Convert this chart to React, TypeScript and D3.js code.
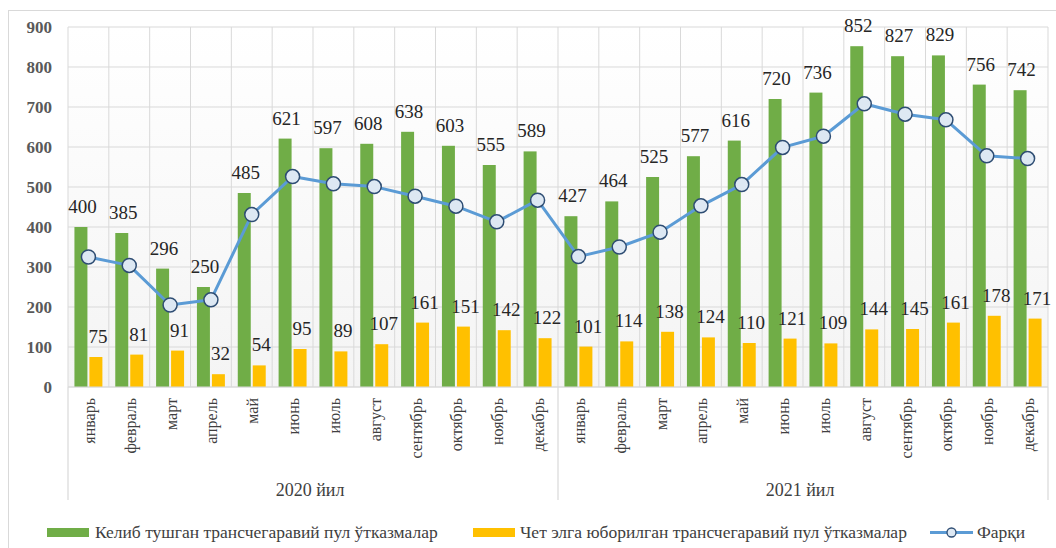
import * as d3 from "d3"

const months = ["январь", "февраль", "март", "апрель", "май", "июнь", "июль", "август", "сентябрь", "октябрь", "ноябрь", "декабрь"]
const years = ["2020 йил", "2021 йил"]
const incoming = [400, 385, 296, 250, 485, 621, 597, 608, 638, 603, 555, 589, 427, 464, 525, 577, 616, 720, 736, 852, 827, 829, 756, 742]
const outgoing = [75, 81, 91, 32, 54, 95, 89, 107, 161, 151, 142, 122, 101, 114, 138, 124, 110, 121, 109, 144, 145, 161, 178, 171]
const difference = [325, 304, 205, 218, 431, 526, 508, 501, 477, 452, 413, 467, 326, 350, 387, 453, 506, 599, 627, 708, 682, 668, 578, 571]
const yTicks = [0, 100, 200, 300, 400, 500, 600, 700, 800, 900]
const legendNames = ["Келиб тушган трансчегаравий пул ўтказмалар", "Чет элга юборилган трансчегаравий пул ўтказмалар", "Фарқи"]

const W = 1056
const H = 548
const serif = "'Times New Roman', Times, 'Liberation Serif', 'DejaVu Serif', serif"
const GREEN = "#70ad47"
const YELLOW = "#ffc000"
const LINE = "#5b9bd5"
const GRID = "#d9d9d9"

export default function App() {
  const keys = years.flatMap((yr, i) => months.map((m) => `${i}-${m}`))
  const x = d3.scaleBand<string>().domain(keys).range([68, 1048])
  const y = d3.scaleLinear().domain([0, 900]).range([387, 27])
  const sub = d3
    .scaleBand<string>()
    .domain(["in", "out"])
    .range([0, x.bandwidth()])
    .paddingInner(0.133)
    .paddingOuter(0.43)
  const bw = sub.bandwidth()
  const cx = (k: string) => (x(k) ?? 0) + x.bandwidth() / 2

  const line = d3
    .line<number>()
    .x((_, i) => cx(keys[i]))
    .y((d) => y(d))

  const groupEdges = [x(keys[0]) ?? 0, x(keys[12]) ?? 0, 1048]

  return (
    <svg width={W} height={H} fontFamily={serif} style={{ position: "absolute", left: 0, top: 0, background: "#fff" }}>
      <defs>
        <linearGradient id="plotbg" x1="0" y1="0" x2="0" y2="1">
          <stop offset="0" stopColor="#ffffff" />
          <stop offset="1" stopColor="#f4f4f4" />
        </linearGradient>
      </defs>
      <rect x={8.5} y={10.5} width={1060} height={560} fill="#fff" stroke={GRID} />
      <rect x={68} y={27} width={980} height={360} fill="url(#plotbg)" />

      {/* grid */}
      {yTicks.map((t) => (
        <line key={"h" + t} x1={68} x2={1048} y1={y(t)} y2={y(t)} stroke={GRID} strokeWidth={1} />
      ))}
      {keys.map((k) => (
        <line key={"v" + k} x1={x(k)} x2={x(k)} y1={27} y2={387} stroke={GRID} strokeWidth={1} />
      ))}
      <line x1={1048} x2={1048} y1={27} y2={387} stroke={GRID} />
      {groupEdges.map((gx, i) => (
        <line key={"g" + i} x1={gx} x2={gx} y1={387} y2={500} stroke={GRID} strokeWidth={1.2} />
      ))}

      {/* y axis labels */}
      {yTicks.map((t) => (
        <text key={"yt" + t} x={52} y={y(t)} dy="0.35em" textAnchor="end" fontSize={17} fontWeight="bold" fill="#595959">
          {t}
        </text>
      ))}

      {/* bars */}
      {keys.map((k, i) => (
        <g key={"b" + k}>
          <rect x={(x(k) ?? 0) + (sub("in") ?? 0)} y={y(incoming[i])} width={bw} height={y(0) - y(incoming[i])} fill={GREEN} />
          <rect x={(x(k) ?? 0) + (sub("out") ?? 0)} y={y(outgoing[i])} width={bw} height={y(0) - y(outgoing[i])} fill={YELLOW} />
        </g>
      ))}

      {/* line */}
      <path d={line(difference) ?? ""} fill="none" stroke={LINE} strokeWidth={3} strokeLinejoin="round" />
      {difference.map((d, i) => (
        <circle key={"m" + i} cx={cx(keys[i])} cy={y(d)} r={7} fill="#dde8f3" stroke="#2e4d73" strokeWidth={1.5} />
      ))}

      {/* data labels */}
      {keys.map((k, i) => (
        <g key={"l" + k} fontSize={19} fill="#262626" textAnchor="middle">
          <text x={(x(k) ?? 0) + (sub("in") ?? 0) + bw / 2 + 1.5} y={y(incoming[i]) - 14}>
            {incoming[i]}
          </text>
          <text x={(x(k) ?? 0) + (sub("out") ?? 0) + bw / 2 + 2} y={y(outgoing[i]) - 14}>
            {outgoing[i]}
          </text>
        </g>
      ))}
      <line x1={68} x2={1048} y1={387} y2={387} stroke={GRID} strokeWidth={1.2} />

      {/* month labels */}
      {keys.map((k) => (
        <text
          key={"xl" + k}
          transform={`translate(${cx(k) + 1},398) rotate(-90)`}
          textAnchor="end"
          dominantBaseline="central"
          fontSize={16}
          fill="#404040"
        >
          {k.split("-")[1]}
        </text>
      ))}
      {years.map((yr, i) => (
        <text
          key={yr}
          x={(groupEdges[i] + groupEdges[i + 1]) / 2 - 3}
          y={496}
          textAnchor="middle"
          fontSize={18}
          fill="#404040"
        >
          {yr}
        </text>
      ))}

      {/* legend */}
      <g fontSize={17.5} fill="#404040">
        <rect x={47} y={528} width={42} height={9} fill={GREEN} />
        <text x={95} y={538}>{legendNames[0]}</text>
        <rect x={473} y={528} width={42} height={9} fill={YELLOW} />
        <text x={520} y={538}>{legendNames[1]}</text>
        <line x1={930} x2={973} y1={532.5} y2={532.5} stroke={LINE} strokeWidth={3} />
        <circle cx={951.5} cy={532.5} r={4.5} fill="#dde8f3" stroke="#2e4d73" strokeWidth={1.3} />
        <text x={977} y={538}>{legendNames[2]}</text>
      </g>
    </svg>
  )
}
